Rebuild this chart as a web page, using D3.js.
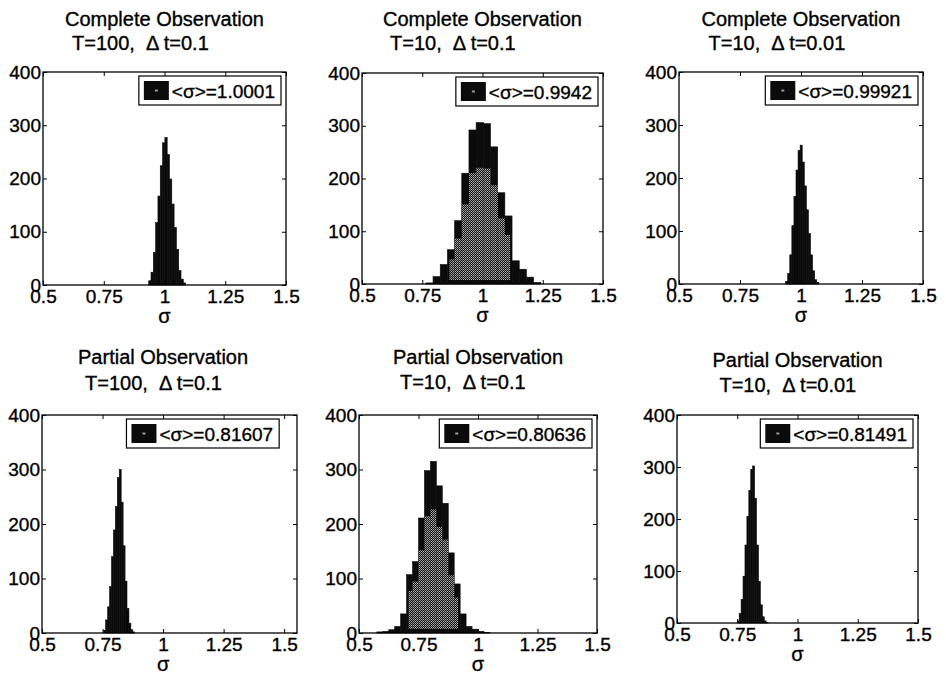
<!DOCTYPE html>
<html>
<head>
<meta charset="utf-8">
<script src="https://cdn.jsdelivr.net/npm/d3@7"></script>
<style>
  html, body { margin: 0; padding: 0; background: #fff; }
  svg { display: block; font-family: "Liberation Sans", Arial, Helvetica, sans-serif; }
  text { white-space: pre; stroke: #000; stroke-width: 0.35px; fill: #000; }
</style>
</head>
<body>
<svg id="chart" width="946" height="676"></svg>
<script>
// ---------------- data ----------------
const titles = ["Complete Observation", "Complete Observation", "Complete Observation",
                "Partial Observation", "Partial Observation", "Partial Observation"];
const subtitles = ["T=100,  \u0394 t=0.1", "T=10,  \u0394 t=0.1", "T=10,  \u0394 t=0.01",
                   "T=100,  \u0394 t=0.1", "T=10,  \u0394 t=0.1", "T=10,  \u0394 t=0.01"];
const meanLabels = ["<\u03c3>=1.0001", "<\u03c3>=0.9942", "<\u03c3>=0.99921",
                    "<\u03c3>=0.81607", "<\u03c3>=0.80636", "<\u03c3>=0.81491"];
const xTickValues = [0.5, 0.75, 1, 1.25, 1.5];
const xTickLabels = ["0.5", "0.75", "1", "1.25", "1.5"];
const yTickValues = [0, 100, 200, 300, 400];
const xLabel = "\u03c3";

// histogram bins: first bin edge and bin width per panel
const binStart = [0.935, 0.765, 0.937, 0.755, 0.575, 0.750];
const binWidth = [0.0095, 0.0298, 0.0085, 0.008, 0.025, 0.008];

const counts1 = [8, 24, 61, 117, 167, 224, 267, 277, 245, 199, 152, 108, 67, 27, 11, 4];
const counts2 = [2, 14, 37, 65, 120, 210, 292, 306, 304, 260, 173, 129, 44, 28, 13, 3];
const counts3 = [5, 20, 55, 110, 165, 215, 252, 262, 230, 185, 140, 95, 55, 25, 8, 3];
const counts4 = [5, 24, 48, 85, 140, 189, 232, 285, 300, 240, 160, 95, 45, 18, 6, 2];
const counts5 = [2, 3, 6, 12, 35, 107, 131, 211, 298, 315, 270, 238, 147, 90, 35, 12, 7, 3, 1];
const counts6 = [4, 18, 45, 90, 150, 205, 255, 295, 302, 240, 150, 80, 35, 12, 4, 1];
const allCounts = [counts1, counts2, counts3, counts4, counts5, counts6];

// ---------------- layout ----------------
const frames = [
  {l: 43,  r: 286, t: 72,  b: 285, xMax: 1.5,   t1: 26,  t2: 50},
  {l: 362, r: 603, t: 73,  b: 284, xMax: 1.5,   t1: 26,  t2: 50},
  {l: 679, r: 923, t: 72,  b: 284, xMax: 1.5,   t1: 26,  t2: 50},
  {l: 42,  r: 297, t: 415, b: 633, xMax: 1.553, t1: 364, t2: 390},
  {l: 359, r: 597, t: 415, b: 633, xMax: 1.5,   t1: 364, t2: 389},
  {l: 677, r: 918, t: 415, b: 623, xMax: 1.5,   t1: 367, t2: 392}
];
const FS_TITLE = 20, FS_TICK = 19, FS_LEG = 19;

const svg = d3.select("#chart");
const defs = svg.append("defs");
const pat = defs.append("pattern").attr("id", "stipple")
  .attr("width", 2).attr("height", 2).attr("patternUnits", "userSpaceOnUse");
pat.append("rect").attr("width", 2).attr("height", 2).attr("fill", "#141414");
pat.append("rect").attr("width", 1).attr("height", 1).attr("fill", "#8c8c8c");
pat.append("rect").attr("x", 1).attr("y", 1).attr("width", 1).attr("height", 1).attr("fill", "#b0b0b0");

frames.forEach((f, p) => {
  const g = svg.append("g");
  const x = d3.scaleLinear().domain([0.5, f.xMax]).range([f.l, f.r]);
  const y = d3.scaleLinear().domain([0, 400]).range([f.b, f.t]);
  const counts = allCounts[p];
  const bins = counts.map((c, i) => ({x0: binStart[p] + i * binWidth[p], x1: binStart[p] + (i + 1) * binWidth[p], c}));
  const maxC = d3.max(counts);

  // bars
  g.append("g").selectAll("rect").data(bins).join("rect")
    .attr("x", d => x(d.x0))
    .attr("width", d => x(d.x1) - x(d.x0))
    .attr("y", d => y(d.c))
    .attr("height", d => y(0) - y(d.c))
    .attr("fill", "#0b0b0b")
    .attr("stroke", "#0b0b0b").attr("stroke-width", 0.6);

  // stippled core (print artifact of the bar fill), continuous across bars
  const wpx = x(bins[0].x1) - x(bins[0].x0);
  if (wpx > 4) {
    const core = bins.filter(d => d.c > 0.15 * maxC);
    g.append("g").selectAll("rect").data(core).join("rect")
      .attr("x", (d, i) => x(d.x0) + (i === 0 ? 2 : 0))
      .attr("width", (d, i) => x(d.x1) - x(d.x0) - (i === 0 ? 2 : 0) - (i === core.length - 1 ? 2 : 0))
      .attr("y", d => y(d.c * 0.72))
      .attr("height", d => y(0) - y(d.c * 0.72) - 4)
      .attr("fill", "url(#stipple)");
  }

  // axes (ticks inward)
  const xb = d3.axisBottom(x).tickValues(xTickValues).tickFormat((d, i) => xTickLabels[i])
    .tickSizeInner(-4).tickSizeOuter(0).tickPadding(5);
  const xt = d3.axisTop(x).tickValues(xTickValues).tickFormat("").tickSizeInner(-4).tickSizeOuter(0);
  const yl = d3.axisLeft(y).tickValues(yTickValues).tickSizeInner(-4).tickSizeOuter(0).tickPadding(2);
  const yr = d3.axisRight(y).tickValues(yTickValues).tickFormat("").tickSizeInner(-4).tickSizeOuter(0);

  const styleAxis = sel => {
    sel.select(".domain").remove();
    sel.selectAll("line").attr("stroke", "#000").attr("stroke-width", 1);
    sel.selectAll("text").attr("font-size", FS_TICK).attr("fill", "#000")
      .attr("font-family", "Liberation Sans, Arial, sans-serif");
  };
  g.append("g").attr("transform", `translate(0,${f.b})`).call(xb).call(styleAxis);
  g.append("g").attr("transform", `translate(0,${f.t})`).call(xt).call(styleAxis);
  g.append("g").attr("transform", `translate(${f.l},0)`).call(yl).call(styleAxis);
  g.append("g").attr("transform", `translate(${f.r},0)`).call(yr).call(styleAxis);

  // frame
  g.append("rect").attr("x", f.l).attr("y", f.t).attr("width", f.r - f.l).attr("height", f.b - f.t)
    .attr("fill", "none").attr("stroke", "#000").attr("stroke-width", 1.3);

  // x label
  g.append("text").attr("x", x(1)).attr("y", f.b + 38).attr("text-anchor", "middle")
    .attr("font-size", FS_TICK + 1).text(xLabel);

  // titles
  const cx = (f.l + x(1.5)) / 2;
  const t1 = g.append("text").attr("x", cx).attr("y", f.t1).attr("text-anchor", "middle")
    .attr("font-size", FS_TITLE).text(titles[p]);
  const bb = t1.node().getBBox();
  g.append("text").attr("x", bb.x + 7).attr("y", f.t2).attr("font-size", FS_TITLE).text(subtitles[p]);

  // legend
  const lg = g.append("g");
  const lt = lg.append("text").attr("font-size", FS_LEG).text(meanLabels[p]);
  const tw = lt.node().getComputedTextLength();
  const lw = 34 + tw + 5, lh = 29;
  const lx = x(1.5) - 5 - lw, ly = f.t + 4;
  lg.insert("rect", "text").attr("x", lx).attr("y", ly).attr("width", lw).attr("height", lh)
    .attr("fill", "#fff").attr("stroke", "#000").attr("stroke-width", 1.2);
  lg.append("rect").attr("x", lx + 5).attr("y", ly + 5).attr("width", 25).attr("height", 19)
    .attr("fill", "#0b0b0b");
  lg.append("rect").attr("x", lx + 16).attr("y", ly + 13.5).attr("width", 3).attr("height", 2)
    .attr("fill", "#999");
  lt.attr("x", lx + 33).attr("y", ly + 21.5);
});
</script>
</body>
</html>
